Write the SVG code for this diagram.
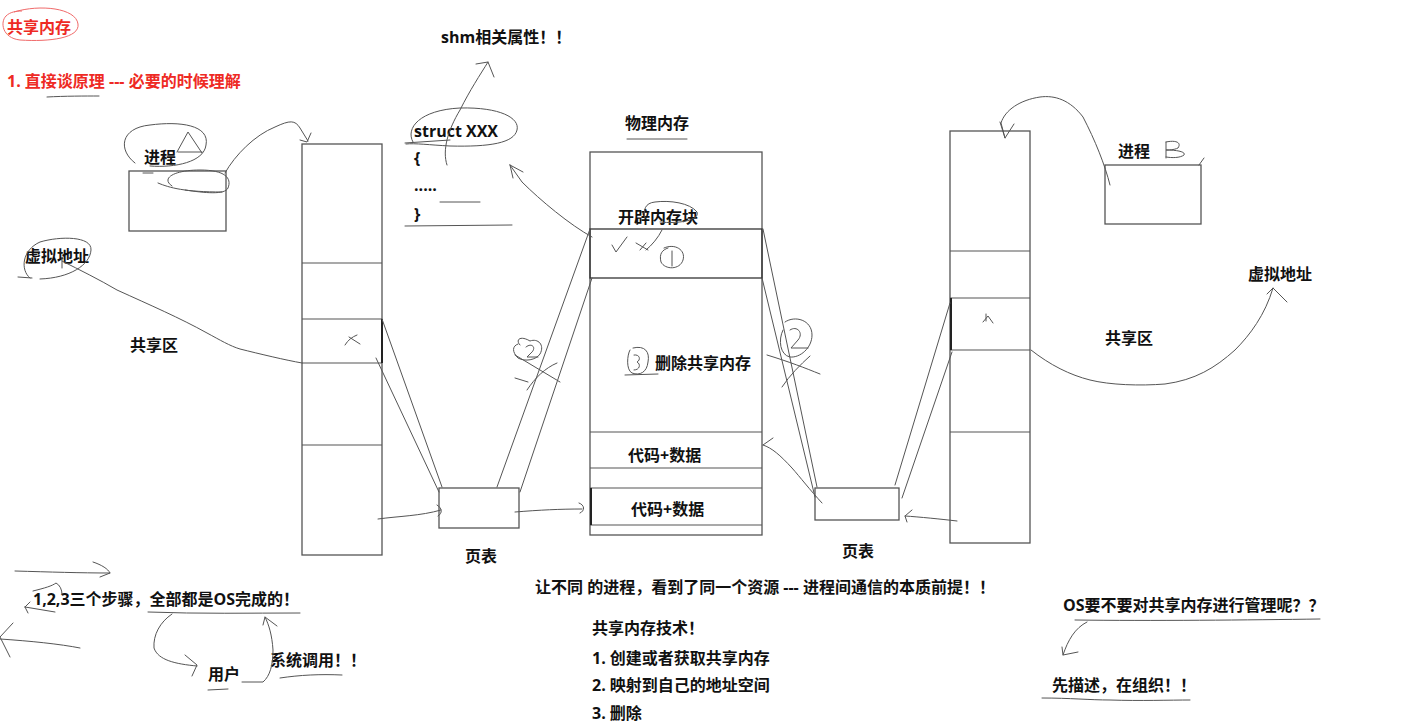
<svg xmlns="http://www.w3.org/2000/svg" width="1419" height="728" viewBox="0 0 1419 728">
<style>
.t{font-family:"Open Sans","Noto Sans CJK SC",sans-serif;font-weight:700;font-size:16px;fill:#111}
.r{fill:#ee2a24}
.box{fill:none;stroke:#555;stroke-width:1.3}
.dv{stroke:#555;stroke-width:1.2}
.h{fill:none;stroke:#555;stroke-width:1;stroke-linecap:round;stroke-linejoin:round}
.hr{fill:none;stroke:#f06a6a;stroke-width:1}
.k{stroke:#222;stroke-width:2}
</style>
<rect width="1419" height="728" fill="#fff"/>

<g id="title">
<path class="hr" d="M14,12 C40,4 76,8 78,24 C80,38 50,42 20,40 C2,38 0,22 6,16 C10,12 16,11 22,11"/>
<text class="t r" x="7" y="33">共享内存</text>
<text class="t r" x="7" y="87">1. 直接谈原理 --- 必要的时候理解</text>
<path class="h" d="M47,97 C65,96 85,96 99,96"/>
</g>

<g id="process-a">
<rect class="box" x="129" y="171" width="97" height="60"/>
<text class="t" x="144" y="163">进程</text>
<path class="h" d="M135,163 C118,150 120,128 150,125 C180,121 210,125 206,145 C204,162 175,168 150,166"/>
<path class="h" d="M177,152 L188,132 L202,153 M178,152 L202,152"/>
<path class="h" d="M158,183 C170,188 185,192 222,192 M172,186 C160,178 175,170 200,170 C225,170 232,178 228,188 C225,195 205,193 185,190"/>
<path class="h" d="M143,173 L153,173"/>
</g>

<g id="left-virtual-label">
<text class="t" x="25" y="262">虚拟地址</text>
<path class="h" d="M30,278 C20,270 22,250 40,242 C60,236 92,236 91,250 C90,265 70,278 40,279 M18,277 L32,278 M62,258 L62,268"/>
<text class="t" x="130" y="351">共享区</text>
</g>

<g id="left-column">
<rect class="box" x="302" y="144" width="80" height="411"/>
<line class="dv" x1="302" y1="263" x2="382" y2="263"/>
<line class="dv" x1="302" y1="319" x2="382" y2="319"/>
<line class="dv" x1="302" y1="363" x2="382" y2="363"/>
<line class="dv" x1="302" y1="445" x2="382" y2="445"/>
<line class="k" x1="382" y1="319" x2="382" y2="363"/>
<path class="h" d="M345,345 C348,340 352,337 357,335 M349,337 L360,344"/>
</g>

<g id="struct-block">
<text class="t" x="441" y="43">shm相关属性！！</text>
<text class="t" x="414" y="137">struct XXX</text>
<text class="t" x="414" y="164">{</text>
<text class="t" x="414" y="191">.....</text>
<text class="t" x="414" y="220">}</text>
<path class="h" d="M413,142 C405,128 420,110 460,108 C500,107 520,118 517,130 C514,143 490,147 450,146 C430,145 415,143 406,144 M405,143 L450,140"/>
<path class="h" d="M440,202 L480,202 M405,226 L512,225"/>
</g>

<g id="page-table-left">
<rect class="box" x="439" y="488" width="80" height="40"/>
<text class="t" x="465" y="562">页表</text>
</g>

<g id="physical-memory">
<text class="t" x="625" y="129">物理内存</text>
<path class="h" d="M627,139 L687,139"/>
<rect class="box" x="590" y="152" width="172" height="383"/>
<rect x="590" y="229" width="172" height="49" fill="none" stroke="#333" stroke-width="1.3"/>
<line class="dv" x1="590" y1="432" x2="762" y2="432"/>
<line class="dv" x1="590" y1="468" x2="762" y2="468"/>
<line class="dv" x1="590" y1="488" x2="762" y2="488"/>
<line class="dv" x1="590" y1="525" x2="762" y2="525"/>
<line class="k" x1="591" y1="488" x2="591" y2="525"/>
<text class="t" x="618" y="223">开辟内存块</text>
<text class="t" x="655" y="369">删除共享内存</text>
<text class="t" x="628" y="461">代码+数据</text>
<text class="t" x="631" y="515">代码+数据</text>
<path class="h" d="M612,245 L616,252 L627,237 M636,243 L648,250 M640,250 L646,243"/>
<path class="h" d="M645,218 C643,210 645,203 655,202 C670,200 690,203 697,212 C700,220 680,224 660,222 M662,230 C658,238 652,245 646,250"/>
<path class="h" d="M664,248 C675,243 686,250 683,260 C680,270 665,270 661,262 C659,254 662,250 668,248 M672,251 L672,266"/>
<path class="h" d="M633,348 C645,345 650,352 648,362 C647,372 640,376 632,373 C626,370 627,355 630,350 M634,355 C640,354 641,360 637,362 C641,364 640,370 634,370 M625,375 L658,374"/>
</g>

<g id="page-table-right">
<rect class="box" x="815" y="488" width="84" height="32"/>
<text class="t" x="842" y="557">页表</text>
</g>

<g id="right-column">
<rect class="box" x="950" y="131" width="80" height="412"/>
<line class="dv" x1="950" y1="251" x2="1030" y2="251"/>
<line class="dv" x1="950" y1="298" x2="1030" y2="298"/>
<line class="dv" x1="950" y1="350" x2="1030" y2="350"/>
<line class="dv" x1="950" y1="432" x2="1030" y2="432"/>
<line class="k" x1="951" y1="298" x2="951" y2="350"/>
<path class="h" d="M983,322 L988,316 L993,323 M986,314 L986,321"/>
</g>

<g id="process-b">
<rect class="box" x="1105" y="165" width="96" height="59"/>
<text class="t" x="1118" y="157">进程</text>
<path class="h" d="M1166,142 L1166,158 M1166,142 C1175,140 1182,142 1178,148 C1174,150 1168,150 1166,150 C1178,150 1186,152 1184,155 C1180,158 1172,158 1166,157"/>
<path class="h" d="M1199,165 L1204,158"/>
<text class="t" x="1248" y="280">虚拟地址</text>
<text class="t" x="1105" y="344">共享区</text>
</g>

<g id="connectors">
<path class="h" d="M225,173 C235,155 255,135 275,127 C290,120 295,120 300,128 L308,141 M300,140 L307,142 L311,133"/>
<path class="h" d="M62,261 C80,270 100,280 117,290 C150,305 180,318 207,333 C220,340 230,346 240,349 C260,354 285,360 302,363"/>
<path class="h" d="M382,319 L442,487 M376,358 L439,492"/>
<path class="h" d="M378,519 C400,516 420,516 441,510 M437,505 C442,508 443,513 438,516"/>
<path class="h" d="M515,512 C540,510 560,509 582,509 M579,503 C585,505 585,511 580,513"/>
<path class="h" d="M497,487 L590,229 M520,492 L592,278"/>
<path class="h" d="M520,345 C515,340 520,335 530,341 C538,338 545,345 540,354 C536,360 525,362 518,358 C512,352 512,346 518,344 M526,347 C532,342 537,348 531,353 L527,357 L538,357 M515,355 L560,382 M527,390 C535,378 545,368 557,363 M515,378 L528,382"/>
<path class="h" d="M592,237 C570,225 540,200 522,182 L510,165 M510,165 L523,172 M510,165 L513,178"/>
<path class="h" d="M447,165 C442,150 448,130 460,110 C470,90 480,75 488,62 M476,64 L488,62 L494,77"/>
<path class="h" d="M763,229 L817,487 M762,278 L815,497"/>
<path class="h" d="M785,322 C795,315 812,320 812,335 C812,348 800,358 790,357 C780,355 778,340 783,330 M790,330 C797,325 804,333 798,340 L791,348 L808,348 M767,355 C790,362 805,368 820,374 M782,387 C790,375 800,365 810,356"/>
<path class="h" d="M895,485 L950,303 M902,498 L952,352"/>
<path class="h" d="M822,503 C810,490 800,477 792,468 C780,455 772,448 763,445 M763,445 L773,438"/>
<path class="h" d="M957,521 C940,519 920,517 905,516 M912,510 L905,516 L907,522"/>
<path class="h" d="M1110,185 C1105,165 1095,140 1083,117 C1070,100 1055,95 1040,97 C1020,100 1005,110 1001,123 L1005,138 M1000,122 L1005,138 L1014,124"/>
<path class="h" d="M1031,350 C1050,365 1070,375 1090,380 C1110,385 1140,386 1165,384 C1195,380 1215,368 1235,350 C1250,335 1265,315 1273,288 M1267,294 L1273,288 L1287,302"/>
</g>

<g id="notes-left">
<text class="t" x="33" y="605">1,2,3三个步骤，全部都是OS完成的！</text>
<text class="t" x="208" y="680">用户</text>
<text class="t" x="270" y="666">系统调用！！</text>
<path class="h" d="M15,571 C50,572 80,573 110,573 M93,562 C102,565 108,569 110,573 L100,577"/>
<path class="h" d="M33,591 C45,588 52,586 56,583 C60,585 62,590 62,594 M25,607 L55,612 M25,607 L30,602 M25,607 L28,613"/>
<path class="h" d="M0,639 C30,641 60,644 80,648 M13,623 L0,637 L10,657"/>
<path class="h" d="M148,612 C200,614 250,613 300,613"/>
<path class="h" d="M172,614 C160,622 153,635 154,648 C158,660 175,664 197,666 M185,655 L197,665 L192,676"/>
<path class="h" d="M208,690 L228,689"/>
<path class="h" d="M242,682 L263,682 C270,676 273,665 273,650 C272,635 269,625 265,617 M263,625 L265,617 L277,626"/>
<path class="h" d="M280,678 C300,675 320,674 342,675"/>
</g>

<g id="notes-middle">
<text class="t" x="535" y="593">让不同 的进程，看到了同一个资源 --- 进程间通信的本质前提！！</text>
<text class="t" x="592" y="634">共享内存技术！</text>
<text class="t" x="592" y="664">1. 创建或者获取共享内存</text>
<text class="t" x="592" y="691">2. 映射到自己的地址空间</text>
<text class="t" x="592" y="719">3. 删除</text>
</g>

<g id="notes-right">
<text class="t" x="1063" y="611">OS要不要对共享内存进行管理呢？？</text>
<text class="t" x="1052" y="691">先描述，在组织！！</text>
<path class="h" d="M1075,620 C1150,621 1250,620 1320,619"/>
<path class="h" d="M1087,622 C1075,628 1068,640 1063,655 M1062,647 L1063,655 L1078,652"/>
<path class="h" d="M1042,698 C1070,698 1090,700 1110,700 C1140,701 1170,700 1190,700"/>
</g>
</svg>
